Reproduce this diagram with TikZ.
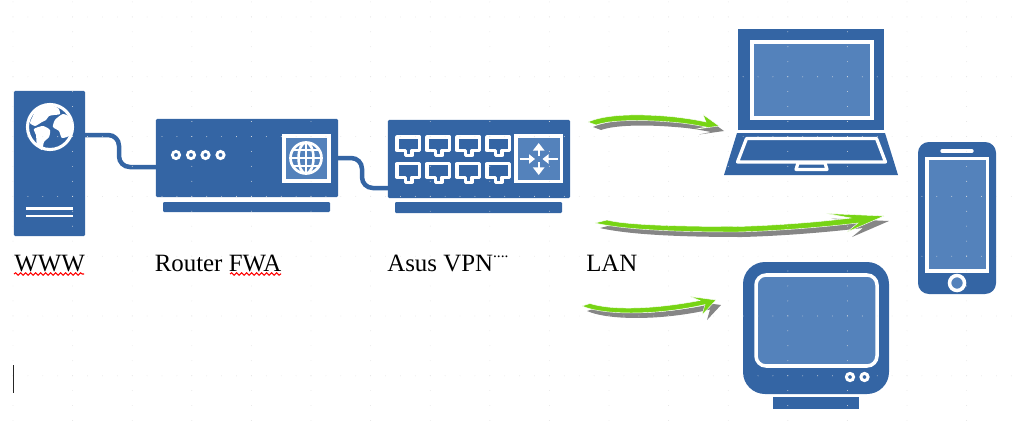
\documentclass[tikz,border=0pt]{standalone}
\usepackage{fontspec}
\setmainfont{Liberation Serif}
\usetikzlibrary{arrows.meta,shadows,decorations.pathmorphing}
\definecolor{netblue}{HTML}{3465A4}
\definecolor{screenblue}{HTML}{5482BB}
\definecolor{flowgreen}{HTML}{77D414}
\tikzset{
    device/.style={fill=netblue, inner sep=0pt, outer sep=0pt, rounded corners=0.03cm},
    cable/.style={draw=netblue, line width=3.2pt, rounded corners=0.27cm},
    panel/.style={draw=white, fill=screenblue, line width=2.5pt},
    iconline/.style={draw=white, line width=2.3pt, line join=round},
    label/.style={anchor=base west, inner sep=0pt, font=\fontsize{17.7}{20}\selectfont},
    spellwave/.style={draw=red, line width=0.75pt, decorate, decoration={snake, amplitude=0.03cm, segment length=0.125cm}},
    flow/.style={fill=flowgreen, draw=white, line width=0.3pt,
        drop shadow={shadow xshift=0.125cm, shadow yshift=-0.125cm, fill=gray!95, opacity=1}},
    griddot/.style={fill=gray!22, draw=none}
}
\begin{document}
\begin{tikzpicture}[x=0.025cm, y=-0.025cm]
    \useasboundingbox (0,0) rectangle (1024,434);

    % Server with earth
    \node[device, minimum width=1.775cm, minimum height=3.625cm] (www) at (49.5,163.5) {};
    \draw[white, line width=2.2pt] (50,127) circle (22.5);
    \fill[white] plot[smooth cycle, tension=0.4] coordinates {(32,118) (37,108) (47,104) (58,108) (60,114) (54,115) (49,116) (46,120) (42,122) (35,126) (30,123)};
    \fill[white] plot[smooth cycle, tension=0.4] coordinates {(55,120) (63,114) (71,118) (74,127) (71,135) (62,138) (59,131) (53,127)};
    \fill[white] plot[smooth cycle, tension=0.4] coordinates {(34,129) (43,126) (50,130) (49,137) (44,142) (42,150) (37,145) (36,135)};
    \draw[iconline, line width=1.8pt] (26,208.5) -- (73,208.5);
    \draw[iconline, line width=1.8pt] (26,216) -- (73,216);

    % Router
    \node[device, minimum width=4.55cm, minimum height=1.95cm] (router) at (247,158) {};
    \fill[device] (163,202) rectangle (330,212);
    \foreach \x in {176,191,205.5,220.5}
        \draw[white, line width=2pt] (\x,155) circle (3.6);
    \draw[panel] (284,136) rectangle (329,181);
    \draw[white, line width=1.9pt] (306,158) circle (15.5);
    \draw[white, line width=1.8pt] (306,158) ellipse (7.5 and 15.5);
    \draw[white, line width=1.8pt] (306,142.5) -- (306,173.5);
    \draw[white, line width=1.8pt] (290.5,158) -- (321.5,158);
    \draw[white, line width=1.6pt] (293,150) -- (319,150);
    \draw[white, line width=1.6pt] (293,166) -- (319,166);

    % Switch
    \node[device, minimum width=4.55cm, minimum height=1.95cm] (switch) at (479,159) {};
    \fill[device] (395,202) rectangle (562,213);
    \foreach \x in {0,30,60,90}
        \foreach \y in {0,26.7}
            \draw[iconline, line width=2.2pt, shift={(\x,\y)}] (397,137) -- (419.5,137) -- (419.5,150.5) -- (412,150.5) -- (412,155.5) -- (405.5,155.5) -- (405.5,150.5) -- (397,150.5) -- cycle;
    \draw[panel] (516,136) rectangle (561.5,181.5);
    \draw[white, line width=1.6pt, -{Triangle[length=0.19cm, width=0.28cm]}] (538.7,156) -- (538.7,143);
    \draw[white, line width=1.6pt, -{Triangle[length=0.19cm, width=0.28cm]}] (538.7,162) -- (538.7,175);
    \draw[white, line width=1.6pt, -{Triangle[length=0.15cm, width=0.23cm]}] (519.5,159) -- (535,159);
    \draw[white, line width=1.6pt, -{Triangle[length=0.15cm, width=0.23cm]}] (558,159) -- (542.5,159);

    % Cables
    \draw[cable] (www.east |- 0,135) -- (119,135) -- (119,167) -- (router.west |- 0,167);
    \draw[cable] (router.east) -- (362,158) -- (362,188) -- (switch.west |- 0,188);

    % Labels
    \node[label] (wwwlabel) at (14,271) {WWW};
    \node[label] (routerlabel) at (154.5,271) {Router FWA};
    \node[label] (switchlabel) at (387,271) {Asus VPN{\fontsize{11}{12}\selectfont\raisebox{9.5pt}{....}}};
    \node[label] (lanlabel) at (586,271) {LAN};
    \draw[spellwave] (14,274) -- (84,274);
    \draw[spellwave] (230,274) -- (281,274);

    % Arrows to the clients
    \path[flow] (588,122) .. controls (605,114.5) and (635,113.5) .. (670,116.5) .. controls (685,118) and (697,120) .. (706,122)
        -- (703,114.5) -- (719,126) -- (694,129.5) -- (706,127) .. controls (695,125) and (685,123) .. (670,122) .. controls (640,119.5) and (610,120) .. (596,125) -- cycle;
    \path[flow] (595,223) -- (607,220) .. controls (625,225) and (680,226.5) .. (737,226.5) .. controls (775,225.5) and (820,222) .. (851,218)
        -- (826,213.5) -- (884,216) -- (847,232) -- (858,223) .. controls (820,227.5) and (775,231) .. (737,232) .. controls (680,232) and (625,230) .. cycle;
    \path[flow] (582,306) -- (590,303.5) .. controls (610,310) and (650,310) .. (700,300.5)
        -- (690,296.5) -- (716,300) -- (702,315) -- (705,304.5) .. controls (660,315) and (605,316) .. cycle;

    % Laptop
    \fill[netblue] (738,29) rectangle (884,130);
    \draw[panel] (752,42) rectangle (872,118);
    \fill[netblue] (737,133) -- (885,133) -- (898,175) -- (724,175) -- cycle;
    \draw[iconline] (746.5,138.5) -- (876.5,138.5) -- (885.5,162) -- (737.5,162) -- cycle;
    \draw[iconline] (798,163) -- (825,163) -- (827,169.5) -- (796,169.5) -- cycle;

    % Phone
    \fill[netblue, rounded corners=0.27cm] (918,142) rectangle (996,294);
    \draw[panel] (927,158.5) rectangle (987.5,271);
    \draw[white, line width=2.4pt, line cap=round] (942,151) -- (972,151);
    \draw[panel] (957,283) circle (7.5);

    % Television
    \fill[netblue, rounded corners=0.55cm] (743,262) rectangle (889,394);
    \draw[panel, rounded corners=0.25cm] (756,275) rectangle (877,366);
    \draw[white, line width=2.1pt] (850,377) circle (3.6);
    \draw[white, line width=2.1pt] (864.5,377) circle (3.6);
    \fill[netblue] (773,397) rectangle (859,409);

    % Drawing grid and text cursor
    \foreach \c in {0,...,17}
        \foreach \k in {0,...,28}
            \fill[griddot] (13+59.6*\c,1.9+14.95*\k) circle (0.45);
    \foreach \r in {0,...,6}
        \foreach \k in {0,...,68}
            \fill[griddot] (13+14.9*\k,17+59.8*\r) circle (0.45);
    \draw[gray!30!black, line width=0.7pt] (13,365) -- (13,393);
\end{tikzpicture}
\end{document}
